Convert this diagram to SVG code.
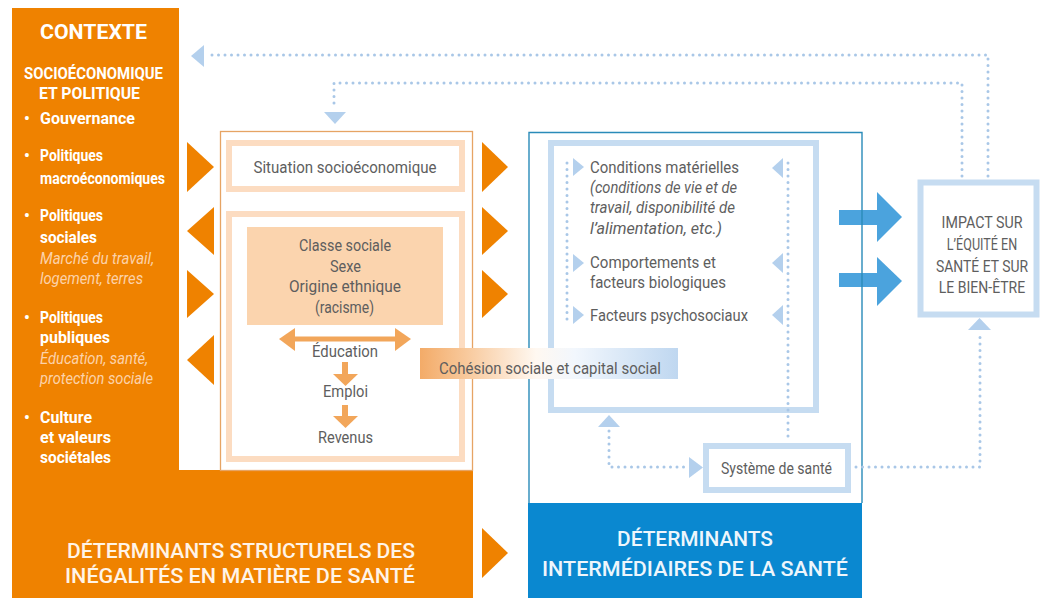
<svg xmlns="http://www.w3.org/2000/svg" width="1041" height="598" viewBox="0 0 1041 598">
<defs>
<style>
text{font-family:Roboto,"Open Sans","Liberation Sans",sans-serif}
.w{fill:#ffffff;font-weight:700;font-size:16px}
.wi{fill:#fcd2aa;font-style:italic;font-size:16px}
.g{fill:#5e5e5e;font-size:16.5px}
.gi{fill:#5e5e5e;font-size:16.5px;font-style:italic}
.c{text-anchor:middle}
.hd{fill:#fff4e8;font-weight:500;font-size:20px;text-anchor:middle}
.hb{fill:#eef6fc;font-weight:500;font-size:20px;text-anchor:middle}
.peach{fill:none;stroke:#fcdcc1;stroke-width:6}
.lb{fill:#ffffff;stroke:#c6dcf1;stroke-width:6}
.dot{fill:none;stroke:#a9c7e7;stroke-width:3;stroke-linecap:round;stroke-dasharray:0 6.5}
.ot{fill:#ef8200}
.lt{fill:#b4d0ed}
.la{fill:#f2a65a}
.ba{fill:#4ba3dd}
</style>
<linearGradient id="coh" x1="0" y1="0" x2="1" y2="0">
<stop offset="0" stop-color="#f3ab68"/>
<stop offset="0.18" stop-color="#f8c99c"/>
<stop offset="0.45" stop-color="#fff8f1"/>
<stop offset="0.6" stop-color="#f2f7fd"/>
<stop offset="1" stop-color="#bfd7f0"/>
</linearGradient>
</defs>

<rect width="1041" height="598" fill="#ffffff"/>

<!-- Structural determinants (orange) -->
<g id="contexte">
<path d="M12,8 H179 V470 H473 V598 H12 Z" fill="#ef8200"/>
<text class="w c" x="93.5" y="39" style="font-size:21px" textLength="107" lengthAdjust="spacingAndGlyphs">CONTEXTE</text>
<text class="w c" x="93.5" y="79" style="font-size:16px" textLength="139" lengthAdjust="spacingAndGlyphs">SOCIOÉCONOMIQUE</text>
<text class="w c" x="89.5" y="99" style="font-size:16px" textLength="101" lengthAdjust="spacingAndGlyphs">ET POLITIQUE</text>
<text class="w" x="24" y="124">•</text>
<text class="w" x="40" y="124" textLength="95" lengthAdjust="spacingAndGlyphs">Gouvernance</text>
<text class="w" x="24" y="161">•</text>
<text class="w" x="40" y="161" textLength="63" lengthAdjust="spacingAndGlyphs">Politiques</text>
<text class="w" x="40" y="184" textLength="125" lengthAdjust="spacingAndGlyphs">macroéconomiques</text>
<text class="w" x="24" y="221">•</text>
<text class="w" x="40" y="221" textLength="63" lengthAdjust="spacingAndGlyphs">Politiques</text>
<text class="w" x="40" y="243" textLength="57" lengthAdjust="spacingAndGlyphs">sociales</text>
<text class="wi" x="40" y="264" textLength="114" lengthAdjust="spacingAndGlyphs">Marché du travail,</text>
<text class="wi" x="40" y="284" textLength="103" lengthAdjust="spacingAndGlyphs">logement, terres</text>
<text class="w" x="24" y="323">•</text>
<text class="w" x="40" y="323" textLength="63" lengthAdjust="spacingAndGlyphs">Politiques</text>
<text class="w" x="40" y="343" textLength="70" lengthAdjust="spacingAndGlyphs">publiques</text>
<text class="wi" x="40" y="364" textLength="108" lengthAdjust="spacingAndGlyphs">Éducation, santé,</text>
<text class="wi" x="40" y="384" textLength="113" lengthAdjust="spacingAndGlyphs">protection sociale</text>
<text class="w" x="24" y="423">•</text>
<text class="w" x="40" y="423" textLength="52" lengthAdjust="spacingAndGlyphs">Culture</text>
<text class="w" x="40" y="443" textLength="71" lengthAdjust="spacingAndGlyphs">et valeurs</text>
<text class="w" x="40" y="463" textLength="71" lengthAdjust="spacingAndGlyphs">sociétales</text>
<text class="hd" x="241" y="558" textLength="348" lengthAdjust="spacingAndGlyphs">DÉTERMINANTS STRUCTURELS DES</text>
<text class="hd" x="240" y="583" textLength="350" lengthAdjust="spacingAndGlyphs">INÉGALITÉS EN MATIÈRE DE SANTÉ</text>
</g>

<g id="structurel">
<rect x="220.5" y="131.5" width="252" height="339" fill="none" stroke="#e6a464" stroke-width="1.3"/>
</g>

<g id="situation">
<rect class="peach" x="229" y="143" width="233" height="46"/>
<text class="g c" x="345" y="173" textLength="183" lengthAdjust="spacingAndGlyphs">Situation socioéconomique</text>
</g>

<g id="position">
<rect class="peach" x="229" y="214" width="233" height="245"/>
<rect x="247" y="227" width="196" height="98" fill="#fbd4ae"/>
<text class="g c" x="345" y="251" textLength="92" lengthAdjust="spacingAndGlyphs">Classe sociale</text>
<text class="g c" x="345.5" y="272" textLength="31" lengthAdjust="spacingAndGlyphs">Sexe</text>
<text class="g c" x="345" y="292" textLength="112" lengthAdjust="spacingAndGlyphs">Origine ethnique</text>
<text class="g c" x="344.5" y="313" textLength="59" lengthAdjust="spacingAndGlyphs">(racisme)</text>
<text class="g c" x="345" y="357" textLength="66" lengthAdjust="spacingAndGlyphs">Éducation</text>
<text class="g c" x="345.5" y="397" textLength="45" lengthAdjust="spacingAndGlyphs">Emploi</text>
<text class="g c" x="345.5" y="443" textLength="55" lengthAdjust="spacingAndGlyphs">Revenus</text>
</g>

<!-- Intermediary determinants (blue) -->
<g id="intermediaires">
<rect x="528" y="503" width="334" height="95" fill="#0a88d0"/>
<text class="hb" x="695" y="546" textLength="156" lengthAdjust="spacingAndGlyphs">DÉTERMINANTS</text>
<text class="hb" x="695" y="576" textLength="306" lengthAdjust="spacingAndGlyphs">INTERMÉDIAIRES DE LA SANTÉ</text>
</g>

<g id="facteurs">
<rect class="lb" x="551" y="143" width="265" height="267"/>
<text class="g" x="590" y="173" textLength="149" lengthAdjust="spacingAndGlyphs">Conditions matérielles</text>
<text class="gi" x="590" y="193" textLength="147" lengthAdjust="spacingAndGlyphs">(conditions de vie et de</text>
<text class="gi" x="590" y="213" textLength="145" lengthAdjust="spacingAndGlyphs">travail, disponibilité de</text>
<text class="gi" x="590" y="234" textLength="132" lengthAdjust="spacingAndGlyphs">l’alimentation, etc.)</text>
<text class="g" x="590" y="268" textLength="126" lengthAdjust="spacingAndGlyphs">Comportements et</text>
<text class="g" x="590" y="288" textLength="136" lengthAdjust="spacingAndGlyphs">facteurs biologiques</text>
<text class="g" x="590" y="321" textLength="158" lengthAdjust="spacingAndGlyphs">Facteurs psychosociaux</text>
</g>

<g id="systeme">
<rect class="lb" x="706" y="446" width="142" height="44"/>
<text class="g c" x="776.5" y="474" textLength="111" lengthAdjust="spacingAndGlyphs">Système de santé</text>
</g>

<g id="impact">
<rect class="lb" x="920.5" y="182.5" width="116" height="132" stroke-width="7"/>
<text class="g c" transform="translate(982,228) scale(0.8,1)" x="0" y="0" textLength="101" lengthAdjust="spacingAndGlyphs">IMPACT SUR</text>
<text class="g c" transform="translate(982,250) scale(0.8,1)" x="0" y="0" textLength="88" lengthAdjust="spacingAndGlyphs">L’ÉQUITÉ EN</text>
<text class="g c" transform="translate(982,272) scale(0.8,1)" x="0" y="0" textLength="115" lengthAdjust="spacingAndGlyphs">SANTÉ ET SUR</text>
<text class="g c" transform="translate(982,293) scale(0.8,1)" x="0" y="0" textLength="108" lengthAdjust="spacingAndGlyphs">LE BIEN-ÊTRE</text>
</g>

<!-- Connectors -->
<g id="connectors">
<polygon class="ot" points="187,142 214,167 187,192"/>
<polygon class="ot" points="214,207 187,231 214,255"/>
<polygon class="ot" points="187,270 214,294 187,318"/>
<polygon class="ot" points="214,335 187,360 214,385"/>
<polygon class="ot" points="482,142 508,167 482,192"/>
<polygon class="ot" points="482,207 508,231 482,255"/>
<polygon class="ot" points="482,270 508,294 482,318"/>
<polygon class="ot" points="482,528 508,553 482,578"/>

<rect class="la" x="292" y="336.5" width="106" height="5"/>
<polygon class="la" points="279,339 295,328 295,351"/>
<polygon class="la" points="411,339 395,328 395,351"/>
<rect class="la" x="342" y="362" width="6" height="13"/>
<polygon class="la" points="333,374 358,374 345.5,386"/>
<rect class="la" x="342" y="405" width="6" height="12"/>
<polygon class="la" points="333,416 358,416 345.5,428"/>

<rect class="ba" x="839" y="210" width="40" height="15"/>
<polygon class="ba" points="877,192 902,217 877,242"/>
<rect class="ba" x="839" y="273" width="40" height="14"/>
<polygon class="ba" points="877,257 902,281 877,306"/>

<polyline points="529,503 529,132.5 862,132.5 862,503" fill="none" stroke="#2a8bb9" stroke-width="1.4"/>

<rect x="420" y="348" width="258" height="31" fill="url(#coh)"/>
<text class="g" x="439" y="374" textLength="222" lengthAdjust="spacingAndGlyphs">Cohésion sociale et capital social</text>

<polyline class="dot" points="988,176 988,55 208,55"/>
<polygon class="lt" points="191,56 204,45 204,67"/>
<polyline class="dot" points="962,176 962,83 334,83 334,108"/>
<polygon class="lt" points="324,112 346,112 335,124"/>

<line class="dot" x1="567" y1="163" x2="567" y2="325"/>
<line class="dot" x1="788" y1="163" x2="788" y2="438"/>
<polygon class="lt" points="573,158 584,167 573,176"/>
<polygon class="lt" points="573,254 584,263 573,272"/>
<polygon class="lt" points="573,306 584,315 573,324"/>
<polygon class="lt" points="783,158 772,168 783,178"/>
<polygon class="lt" points="783,253 772,263 783,273"/>
<polygon class="lt" points="783,305 772,315 783,325"/>

<polyline class="dot" points="609,431 609,467 686,467"/>
<polygon class="lt" points="598,427 620,427 609,415"/>
<polygon class="lt" points="689,457 703,467.5 689,478"/>
<polyline class="dot" points="856,467 980,467 980,334"/>
<polygon class="lt" points="968,330 991,330 979.5,318"/>
</g>
</svg>
